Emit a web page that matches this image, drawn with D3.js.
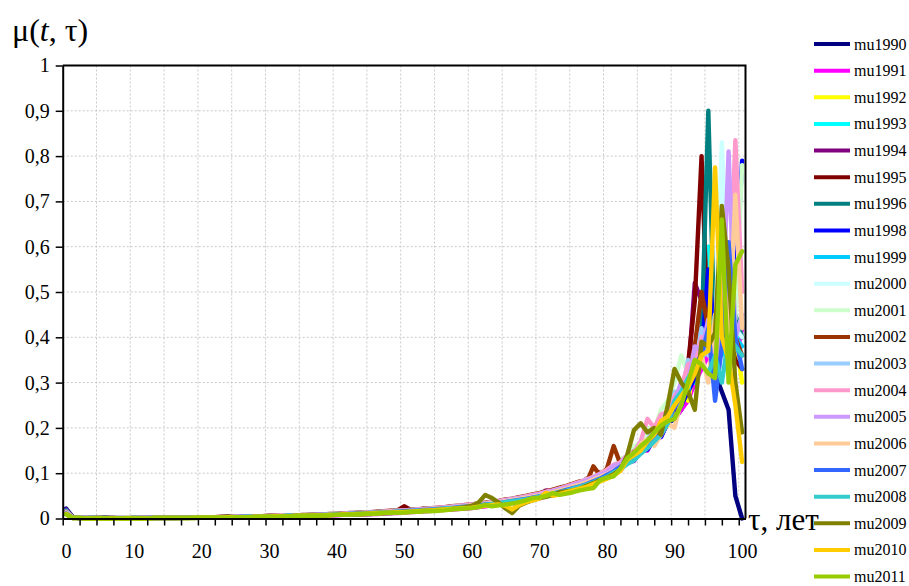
<!DOCTYPE html>
<html>
<head>
<meta charset="utf-8">
<script src="https://cdn.jsdelivr.net/npm/d3@7"></script>
<style>
  body { margin: 0; background: #fff; }
  svg { display: block; }
</style>
</head>
<body>
<svg id="chart" width="909" height="586"></svg>
<script>
// Mortality rate μ(t, τ) by age τ = 0..100, one series per calendar year t.
const seriesNames = ["mu1990","mu1991","mu1992","mu1993","mu1994","mu1995","mu1996","mu1998","mu1999","mu2000",
  "mu2001","mu2002","mu2003","mu2004","mu2005","mu2006","mu2007","mu2008","mu2009","mu2010","mu2011"];

const seriesColors = ["#000080","#ff00ff","#ffff00","#00ffff","#800080","#800000","#008080","#0000ff","#00ccff","#ccffff",
  "#ccffcc","#993300","#99ccff","#ff99cc","#cc99ff","#ffcc99","#3366ff","#33cccc","#808000","#ffcc00","#99cc00"];

const xTickLabels = [0, 10, 20, 30, 40, 50, 60, 70, 80, 90, 100];

const mu1990 = [
0.022,0.003,0.002,0.001,0.001,0.001,0.001,0.001,0.001,0.001,
0.001,0.001,0.001,0.001,0.001,0.001,0.001,0.002,0.002,0.002,
0.002,0.002,0.003,0.003,0.003,0.003,0.003,0.003,0.004,0.004,
0.004,0.004,0.005,0.005,0.005,0.006,0.006,0.006,0.007,0.007,
0.008,0.008,0.009,0.009,0.010,0.010,0.011,0.012,0.012,0.013,
0.014,0.015,0.016,0.017,0.018,0.019,0.020,0.021,0.022,0.023,
0.024,0.026,0.028,0.030,0.032,0.034,0.036,0.039,0.041,0.044,
0.046,0.052,0.051,0.059,0.058,0.066,0.068,0.077,0.078,0.090,
0.092,0.108,0.110,0.128,0.130,0.152,0.155,0.180,0.183,0.210,
0.220,0.240,0.270,0.310,0.420,0.500,0.320,0.280,0.240,0.050,0.000];

const mu1991 = [
0.019,0.002,0.001,0.001,0.001,0.000,0.000,0.000,0.000,0.000,
0.000,0.001,0.001,0.001,0.001,0.001,0.001,0.001,0.002,0.002,
0.002,0.002,0.002,0.002,0.002,0.003,0.003,0.003,0.003,0.003,
0.003,0.004,0.004,0.004,0.005,0.005,0.005,0.006,0.006,0.007,
0.007,0.008,0.008,0.009,0.009,0.010,0.010,0.011,0.012,0.012,
0.013,0.014,0.015,0.016,0.017,0.018,0.019,0.020,0.021,0.022,
0.023,0.025,0.027,0.029,0.031,0.033,0.035,0.030,0.040,0.043,
0.044,0.050,0.050,0.058,0.057,0.066,0.067,0.076,0.076,0.089,
0.090,0.106,0.106,0.125,0.127,0.149,0.150,0.178,0.180,0.214,
0.220,0.240,0.260,0.300,0.330,0.360,0.320,0.400,0.380,0.350,0.420];

const mu1992 = [
0.017,0.002,0.001,0.001,0.001,0.001,0.000,0.000,0.000,0.001,
0.001,0.001,0.001,0.001,0.001,0.001,0.001,0.002,0.002,0.002,
0.002,0.002,0.002,0.003,0.003,0.003,0.003,0.003,0.003,0.004,
0.004,0.004,0.004,0.005,0.005,0.005,0.006,0.006,0.006,0.007,
0.008,0.008,0.009,0.009,0.010,0.011,0.011,0.012,0.013,0.013,
0.014,0.015,0.016,0.017,0.018,0.020,0.021,0.022,0.023,0.025,
0.026,0.028,0.030,0.031,0.034,0.036,0.038,0.041,0.043,0.047,
0.049,0.053,0.056,0.060,0.064,0.068,0.073,0.078,0.084,0.090,
0.100,0.104,0.120,0.122,0.142,0.146,0.168,0.172,0.198,0.205,
0.230,0.280,0.260,0.340,0.360,0.420,0.380,0.450,0.350,0.400,0.300];

const mu1993 = [
0.016,0.002,0.001,0.001,0.001,0.001,0.001,0.000,0.000,0.000,
0.001,0.001,0.001,0.001,0.001,0.001,0.002,0.002,0.002,0.002,
0.002,0.002,0.003,0.003,0.003,0.003,0.003,0.004,0.004,0.004,
0.004,0.005,0.005,0.005,0.006,0.006,0.006,0.007,0.007,0.008,
0.008,0.009,0.009,0.010,0.011,0.011,0.012,0.013,0.014,0.014,
0.015,0.016,0.017,0.019,0.020,0.021,0.022,0.024,0.025,0.027,
0.028,0.030,0.032,0.034,0.036,0.038,0.041,0.043,0.046,0.049,
0.052,0.055,0.059,0.063,0.067,0.072,0.077,0.082,0.088,0.095,
0.105,0.108,0.125,0.126,0.146,0.150,0.175,0.176,0.205,0.208,
0.260,0.250,0.320,0.300,0.400,0.600,0.400,0.450,0.420,0.380,0.450];

const mu1994 = [
0.017,0.002,0.001,0.001,0.001,0.001,0.001,0.000,0.000,0.000,
0.001,0.001,0.001,0.001,0.001,0.001,0.002,0.002,0.002,0.002,
0.003,0.003,0.003,0.003,0.003,0.004,0.004,0.004,0.004,0.005,
0.005,0.005,0.006,0.006,0.006,0.007,0.007,0.008,0.008,0.009,
0.009,0.010,0.010,0.011,0.012,0.012,0.013,0.014,0.015,0.016,
0.017,0.018,0.019,0.020,0.021,0.022,0.023,0.025,0.026,0.027,
0.029,0.031,0.033,0.035,0.037,0.039,0.042,0.044,0.047,0.050,
0.054,0.062,0.060,0.066,0.066,0.076,0.077,0.088,0.088,0.102,
0.104,0.118,0.120,0.138,0.140,0.165,0.165,0.195,0.196,0.235,
0.240,0.300,0.310,0.520,0.480,0.450,0.380,0.500,0.440,0.420,0.400];

const mu1995 = [
0.018,0.002,0.001,0.001,0.001,0.001,0.001,0.001,0.000,0.000,
0.001,0.001,0.001,0.001,0.001,0.001,0.002,0.002,0.002,0.003,
0.003,0.003,0.003,0.004,0.004,0.004,0.004,0.005,0.005,0.005,
0.006,0.006,0.006,0.007,0.007,0.008,0.008,0.009,0.009,0.010,
0.010,0.011,0.012,0.012,0.013,0.014,0.015,0.016,0.017,0.018,
0.027,0.019,0.020,0.021,0.022,0.023,0.024,0.026,0.027,0.029,
0.030,0.032,0.034,0.036,0.038,0.040,0.043,0.045,0.048,0.051,
0.055,0.058,0.062,0.066,0.070,0.075,0.080,0.086,0.092,0.098,
0.108,0.112,0.130,0.132,0.155,0.156,0.185,0.186,0.220,0.222,
0.260,0.270,0.340,0.480,0.800,0.380,0.360,0.450,0.400,0.350,0.330];

const mu1996 = [
0.018,0.002,0.001,0.001,0.001,0.001,0.001,0.000,0.000,0.000,
0.001,0.001,0.001,0.001,0.001,0.001,0.002,0.002,0.002,0.002,
0.003,0.003,0.003,0.003,0.004,0.004,0.004,0.004,0.005,0.005,
0.005,0.006,0.006,0.006,0.007,0.007,0.008,0.008,0.009,0.009,
0.010,0.010,0.011,0.012,0.012,0.013,0.014,0.015,0.016,0.017,
0.018,0.019,0.020,0.021,0.022,0.023,0.024,0.025,0.027,0.028,
0.030,0.031,0.033,0.035,0.037,0.040,0.042,0.045,0.047,0.050,
0.053,0.057,0.061,0.065,0.069,0.074,0.079,0.084,0.090,0.097,
0.100,0.115,0.118,0.136,0.139,0.162,0.165,0.192,0.195,0.228,
0.250,0.250,0.330,0.320,0.400,0.900,0.350,0.420,0.380,0.450,0.400];

const mu1998 = [
0.017,0.002,0.001,0.001,0.001,0.000,0.000,0.000,0.000,0.000,
0.000,0.001,0.001,0.001,0.001,0.001,0.001,0.002,0.002,0.002,
0.002,0.002,0.003,0.003,0.003,0.003,0.003,0.003,0.004,0.004,
0.004,0.004,0.005,0.005,0.005,0.006,0.006,0.007,0.007,0.008,
0.008,0.009,0.009,0.010,0.010,0.011,0.012,0.012,0.013,0.014,
0.015,0.016,0.017,0.018,0.019,0.020,0.021,0.022,0.023,0.025,
0.026,0.028,0.029,0.031,0.033,0.035,0.038,0.040,0.043,0.045,
0.048,0.052,0.055,0.059,0.063,0.067,0.072,0.077,0.083,0.089,
0.094,0.106,0.110,0.125,0.128,0.150,0.152,0.178,0.180,0.212,
0.220,0.250,0.280,0.310,0.360,0.550,0.400,0.420,0.480,0.500,0.790];

const mu1999 = [
0.017,0.002,0.001,0.001,0.001,0.000,0.000,0.000,0.000,0.000,
0.001,0.001,0.001,0.001,0.001,0.001,0.001,0.002,0.002,0.002,
0.002,0.002,0.003,0.003,0.003,0.003,0.004,0.004,0.004,0.004,
0.005,0.005,0.005,0.006,0.006,0.006,0.007,0.007,0.008,0.008,
0.009,0.009,0.010,0.010,0.011,0.012,0.012,0.013,0.014,0.015,
0.016,0.017,0.018,0.019,0.020,0.021,0.022,0.024,0.025,0.026,
0.028,0.030,0.031,0.033,0.035,0.038,0.040,0.043,0.045,0.048,
0.051,0.055,0.058,0.062,0.066,0.071,0.076,0.081,0.087,0.094,
0.103,0.106,0.124,0.126,0.147,0.150,0.175,0.177,0.208,0.210,
0.250,0.300,0.280,0.360,0.350,0.400,0.450,0.360,0.520,0.400,0.380];

const mu2000 = [
0.016,0.002,0.001,0.001,0.001,0.001,0.000,0.000,0.000,0.000,
0.001,0.001,0.001,0.001,0.001,0.001,0.002,0.002,0.002,0.002,
0.002,0.003,0.003,0.003,0.003,0.004,0.004,0.004,0.004,0.005,
0.005,0.005,0.006,0.006,0.006,0.007,0.007,0.008,0.008,0.009,
0.009,0.010,0.010,0.011,0.012,0.012,0.013,0.014,0.015,0.016,
0.017,0.018,0.019,0.020,0.021,0.022,0.024,0.025,0.026,0.028,
0.029,0.031,0.033,0.035,0.037,0.040,0.042,0.045,0.047,0.050,
0.053,0.057,0.061,0.065,0.069,0.074,0.079,0.085,0.091,0.098,
0.108,0.112,0.130,0.133,0.155,0.158,0.185,0.190,0.220,0.228,
0.250,0.300,0.310,0.360,0.380,0.420,0.400,0.830,0.450,0.420,0.400];

const mu2001 = [
0.015,0.002,0.001,0.001,0.001,0.001,0.000,0.000,0.000,0.000,
0.001,0.001,0.001,0.001,0.001,0.001,0.002,0.002,0.002,0.002,
0.003,0.003,0.003,0.003,0.003,0.004,0.004,0.004,0.005,0.005,
0.005,0.006,0.006,0.006,0.007,0.007,0.008,0.008,0.009,0.009,
0.010,0.010,0.011,0.012,0.012,0.013,0.014,0.015,0.016,0.017,
0.018,0.019,0.020,0.021,0.022,0.023,0.025,0.026,0.027,0.029,
0.030,0.032,0.034,0.036,0.038,0.041,0.043,0.046,0.049,0.052,
0.055,0.059,0.063,0.067,0.071,0.076,0.081,0.087,0.093,0.100,
0.110,0.114,0.132,0.136,0.160,0.165,0.200,0.195,0.240,0.260,
0.300,0.360,0.320,0.370,0.400,0.420,0.380,0.460,0.500,0.440,0.780];

const mu2002 = [
0.015,0.002,0.001,0.001,0.001,0.001,0.000,0.000,0.000,0.000,
0.001,0.001,0.001,0.001,0.001,0.001,0.002,0.002,0.002,0.002,
0.003,0.003,0.003,0.003,0.004,0.004,0.004,0.004,0.005,0.005,
0.005,0.006,0.006,0.007,0.007,0.007,0.008,0.008,0.009,0.009,
0.010,0.011,0.011,0.012,0.013,0.013,0.014,0.015,0.016,0.017,
0.018,0.019,0.020,0.022,0.023,0.024,0.025,0.027,0.028,0.030,
0.031,0.033,0.035,0.037,0.039,0.042,0.044,0.047,0.050,0.053,
0.056,0.060,0.064,0.068,0.072,0.077,0.082,0.080,0.115,0.095,
0.110,0.160,0.120,0.135,0.148,0.160,0.174,0.190,0.207,0.225,
0.260,0.280,0.320,0.380,0.500,0.420,0.400,0.440,0.380,0.400,0.360];

const mu2003 = [
0.014,0.002,0.001,0.001,0.001,0.000,0.000,0.000,0.000,0.000,
0.001,0.001,0.001,0.001,0.001,0.001,0.001,0.002,0.002,0.002,
0.002,0.003,0.003,0.003,0.003,0.004,0.004,0.004,0.004,0.005,
0.005,0.005,0.006,0.006,0.007,0.007,0.007,0.008,0.008,0.009,
0.010,0.010,0.011,0.011,0.012,0.013,0.014,0.015,0.015,0.016,
0.017,0.018,0.020,0.021,0.022,0.023,0.024,0.026,0.027,0.029,
0.030,0.032,0.034,0.036,0.038,0.040,0.043,0.045,0.048,0.051,
0.054,0.058,0.061,0.066,0.070,0.075,0.080,0.085,0.091,0.098,
0.104,0.118,0.120,0.140,0.142,0.168,0.170,0.200,0.200,0.240,
0.280,0.270,0.350,0.330,0.420,0.360,0.400,0.520,0.460,0.400,0.440];

const mu2004 = [
0.013,0.002,0.001,0.001,0.000,0.000,0.000,0.000,0.000,0.000,
0.000,0.001,0.001,0.001,0.001,0.001,0.001,0.002,0.002,0.002,
0.002,0.003,0.003,0.003,0.003,0.004,0.004,0.004,0.005,0.005,
0.005,0.006,0.006,0.006,0.007,0.007,0.008,0.008,0.009,0.009,
0.010,0.010,0.011,0.012,0.012,0.013,0.014,0.015,0.016,0.017,
0.018,0.019,0.020,0.021,0.022,0.024,0.025,0.026,0.028,0.029,
0.031,0.033,0.034,0.036,0.039,0.041,0.043,0.046,0.049,0.052,
0.055,0.059,0.062,0.066,0.071,0.076,0.081,0.086,0.092,0.099,
0.108,0.118,0.124,0.140,0.146,0.170,0.220,0.200,0.230,0.235,
0.270,0.290,0.340,0.350,0.400,0.400,0.360,0.420,0.450,0.835,0.500];

const mu2005 = [
0.013,0.002,0.001,0.001,0.000,0.000,0.000,0.000,0.000,0.000,
0.000,0.000,0.001,0.001,0.001,0.001,0.001,0.001,0.002,0.002,
0.002,0.002,0.003,0.003,0.003,0.003,0.004,0.004,0.004,0.005,
0.005,0.005,0.006,0.006,0.007,0.007,0.007,0.008,0.008,0.009,
0.009,0.010,0.011,0.011,0.012,0.013,0.013,0.014,0.015,0.016,
0.017,0.018,0.019,0.020,0.021,0.023,0.024,0.025,0.027,0.028,
0.030,0.031,0.033,0.035,0.037,0.040,0.042,0.045,0.047,0.050,
0.053,0.057,0.061,0.065,0.069,0.074,0.079,0.084,0.090,0.097,
0.102,0.116,0.120,0.138,0.142,0.166,0.168,0.198,0.200,0.238,
0.260,0.300,0.300,0.380,0.370,0.440,0.340,0.420,0.810,0.400,0.450];

const mu2006 = [
0.012,0.002,0.001,0.000,0.000,0.000,0.000,0.000,0.000,0.000,
0.000,0.000,0.001,0.001,0.001,0.001,0.001,0.001,0.002,0.002,
0.002,0.002,0.003,0.003,0.003,0.003,0.004,0.004,0.004,0.005,
0.005,0.005,0.006,0.006,0.006,0.007,0.007,0.008,0.008,0.009,
0.009,0.010,0.010,0.011,0.012,0.012,0.013,0.014,0.015,0.015,
0.016,0.017,0.018,0.019,0.021,0.022,0.023,0.024,0.026,0.027,
0.029,0.030,0.032,0.034,0.036,0.038,0.041,0.043,0.046,0.048,
0.051,0.055,0.058,0.062,0.066,0.071,0.075,0.080,0.086,0.092,
0.098,0.105,0.115,0.125,0.140,0.165,0.175,0.160,0.185,0.210,
0.200,0.260,0.300,0.330,0.360,0.300,0.450,0.400,0.380,0.715,0.420];

const mu2007 = [
0.011,0.002,0.001,0.000,0.000,0.000,0.000,0.000,0.000,0.000,
0.000,0.000,0.001,0.001,0.001,0.001,0.001,0.001,0.002,0.002,
0.002,0.002,0.002,0.003,0.003,0.003,0.004,0.004,0.004,0.004,
0.005,0.005,0.005,0.006,0.006,0.007,0.007,0.008,0.008,0.008,
0.009,0.009,0.010,0.011,0.011,0.012,0.013,0.013,0.014,0.015,
0.016,0.017,0.018,0.019,0.020,0.021,0.022,0.023,0.025,0.026,
0.027,0.029,0.031,0.032,0.034,0.036,0.039,0.041,0.043,0.046,
0.049,0.052,0.055,0.059,0.063,0.067,0.071,0.076,0.082,0.088,
0.096,0.104,0.115,0.122,0.140,0.145,0.170,0.172,0.205,0.215,
0.245,0.270,0.300,0.340,0.360,0.420,0.260,0.380,0.610,0.400,0.330];

const mu2008 = [
0.010,0.001,0.001,0.000,0.000,0.000,0.000,0.000,0.000,0.000,
0.000,0.000,0.000,0.001,0.001,0.001,0.001,0.001,0.001,0.002,
0.002,0.002,0.002,0.003,0.003,0.003,0.003,0.004,0.004,0.004,
0.005,0.005,0.005,0.006,0.006,0.006,0.007,0.007,0.008,0.008,
0.009,0.009,0.010,0.010,0.011,0.012,0.012,0.013,0.014,0.015,
0.015,0.016,0.017,0.018,0.019,0.020,0.022,0.023,0.024,0.025,
0.027,0.028,0.030,0.032,0.034,0.036,0.038,0.040,0.042,0.045,
0.048,0.051,0.054,0.058,0.061,0.066,0.070,0.075,0.080,0.086,
0.092,0.102,0.108,0.120,0.128,0.143,0.155,0.170,0.185,0.210,
0.260,0.280,0.310,0.330,0.340,0.320,0.360,0.300,0.400,0.380,0.360];

const mu2009 = [
0.010,0.001,0.001,0.000,0.000,0.000,0.000,0.000,0.000,0.000,
0.000,0.000,0.000,0.001,0.001,0.001,0.001,0.001,0.001,0.001,
0.002,0.002,0.002,0.002,0.003,0.003,0.003,0.003,0.004,0.004,
0.004,0.005,0.005,0.005,0.006,0.006,0.006,0.007,0.007,0.008,
0.008,0.009,0.009,0.010,0.010,0.011,0.012,0.012,0.013,0.014,
0.015,0.015,0.016,0.017,0.018,0.019,0.020,0.021,0.023,0.025,
0.028,0.035,0.052,0.045,0.035,0.022,0.012,0.028,0.035,0.040,
0.045,0.048,0.052,0.058,0.060,0.062,0.066,0.072,0.078,0.085,
0.090,0.098,0.108,0.140,0.195,0.210,0.190,0.200,0.185,0.250,
0.330,0.300,0.280,0.240,0.390,0.380,0.410,0.690,0.550,0.300,0.190];

const mu2010 = [
0.010,0.001,0.001,0.000,0.000,0.000,0.000,0.000,0.000,0.000,
0.000,0.000,0.000,0.001,0.001,0.001,0.001,0.001,0.001,0.002,
0.002,0.002,0.002,0.002,0.003,0.003,0.003,0.003,0.004,0.004,
0.004,0.005,0.005,0.005,0.006,0.006,0.006,0.007,0.007,0.008,
0.008,0.009,0.009,0.010,0.010,0.011,0.012,0.012,0.013,0.014,
0.014,0.015,0.016,0.017,0.018,0.019,0.020,0.021,0.022,0.023,
0.024,0.026,0.028,0.030,0.031,0.028,0.020,0.030,0.036,0.040,
0.044,0.057,0.050,0.054,0.058,0.062,0.066,0.070,0.076,0.082,
0.088,0.095,0.105,0.130,0.140,0.150,0.170,0.185,0.215,0.225,
0.250,0.270,0.290,0.320,0.360,0.370,0.775,0.400,0.350,0.250,0.125];

const mu2011 = [
0.009,0.001,0.001,0.000,0.000,0.000,0.000,0.000,0.000,0.000,
0.000,0.000,0.000,0.001,0.001,0.001,0.001,0.001,0.001,0.001,
0.002,0.002,0.002,0.002,0.002,0.003,0.003,0.003,0.003,0.004,
0.004,0.004,0.005,0.005,0.005,0.006,0.006,0.006,0.007,0.007,
0.008,0.008,0.009,0.009,0.010,0.010,0.011,0.012,0.012,0.013,
0.013,0.014,0.015,0.016,0.016,0.017,0.018,0.020,0.021,0.022,
0.023,0.025,0.030,0.027,0.029,0.031,0.033,0.036,0.040,0.045,
0.046,0.050,0.056,0.052,0.055,0.058,0.062,0.065,0.067,0.085,
0.090,0.093,0.110,0.133,0.145,0.160,0.172,0.190,0.205,0.215,
0.220,0.250,0.300,0.350,0.340,0.320,0.310,0.660,0.300,0.560,0.590];

const seriesValues = [mu1990, mu1991, mu1992, mu1993, mu1994, mu1995, mu1996, mu1998, mu1999, mu2000,
  mu2001, mu2002, mu2003, mu2004, mu2005, mu2006, mu2007, mu2008, mu2009, mu2010, mu2011];

const series = seriesNames.map((name, i) => ({ name, color: seriesColors[i], values: seriesValues[i] }));

// ---------- layout ----------
const FONT = "'Liberation Serif', 'Times New Roman', serif";
const plot = { left: 62.7, right: 745.5, top: 65.5, bottom: 518.5 };

const svg = d3.select("#chart");

// Categories 0..100 sit in the middle of equal slots along the axis.
const x = d3.scaleLinear().domain([-0.5, 100.5]).range([plot.left, plot.right]);
const y = d3.scaleLinear().domain([0, 1]).range([plot.bottom, plot.top]);

const fmt = d3.formatLocale({ decimal: ",", thousands: " ", grouping: [3], currency: ["", ""] }).format(".1~f");

// ---------- grid ----------
const slotEdges = d3.range(0, 41).map(k => -0.5 + 2.5 * k);   // tick marks every 2.5 slots
const gridX = slotEdges.filter((d, k) => k > 0 && k % 2 === 0);
const grid = svg.append("g").attr("stroke", "#c8c8c8").attr("stroke-width", 1).attr("stroke-dasharray", "2,2");
grid.selectAll("line.vx").data(gridX).join("line")
  .attr("x1", d => x(d)).attr("x2", d => x(d))
  .attr("y1", plot.top).attr("y2", plot.bottom);
grid.selectAll("line.hy").data(y.ticks(10).filter(d => d > 0 && d < 1)).join("line")
  .attr("x1", plot.left).attr("x2", plot.right)
  .attr("y1", d => y(d)).attr("y2", d => y(d));

// ---------- series ----------
const line = d3.line().x((d, i) => x(i)).y(d => y(d));
svg.append("g")
  .selectAll("path").data(series).join("path")
  .attr("d", d => line(d.values))
  .attr("fill", "none")
  .attr("stroke", d => d.color)
  .attr("stroke-width", 4.4)
  .attr("stroke-linejoin", "round")
  .attr("stroke-linecap", "round");

// ---------- frame ----------
svg.append("path")
  .attr("d", `M${plot.left},${plot.top}H${plot.right}V${plot.bottom}`)
  .attr("fill", "none").attr("stroke", "#000").attr("stroke-width", 2);

// ---------- axes ----------
const yAxis = svg.append("g")
  .attr("transform", `translate(${plot.left},0)`)
  .call(d3.axisLeft(y).ticks(10).tickFormat(fmt).tickSize(7).tickSizeOuter(0).tickPadding(6));
const xMarks = svg.append("g")
  .attr("transform", `translate(0,${plot.bottom})`)
  .call(d3.axisBottom(x).tickValues(slotEdges).tickFormat("").tickSize(7).tickSizeOuter(0));
const xLabels = svg.append("g")
  .attr("transform", `translate(0,${plot.bottom})`)
  .call(d3.axisBottom(x).tickValues(xTickLabels).tickSize(0).tickPadding(25));
xLabels.select(".domain").remove();

[yAxis, xMarks].forEach(g => {
  g.select(".domain").attr("stroke", "#000").attr("stroke-width", 2);
  g.selectAll(".tick line").attr("stroke", "#000").attr("stroke-width", 1.5);
});
[yAxis, xLabels].forEach(g => {
  g.attr("font-family", FONT);
  g.selectAll("text").style("font-family", FONT).attr("font-size", 20).attr("fill", "#000");
});

// ---------- axis titles ----------
const yTitle = svg.append("text")
  .attr("x", 12).attr("y", 41)
  .style("font-family", FONT).attr("font-size", 32).attr("fill", "#000");
yTitle.append("tspan").text("μ(");
yTitle.append("tspan").attr("font-style", "italic").text("t");
yTitle.append("tspan").text(", τ)");

svg.append("text")
  .attr("x", 748).attr("y", 530)
  .style("font-family", FONT).attr("font-size", 31).attr("fill", "#000")
  .text("τ, лет");

// ---------- legend ----------
const legendY = d3.scaleLinear().domain([0, series.length - 1]).range([44, 576.6]);
const legend = svg.append("g")
  .selectAll("g").data(series).join("g")
  .attr("transform", (d, i) => `translate(0,${legendY(i)})`);
legend.append("line")
  .attr("x1", 814).attr("x2", 850).attr("y1", 0).attr("y2", 0)
  .attr("stroke", d => d.color).attr("stroke-width", 4);
legend.append("text")
  .attr("x", 854).attr("y", 5.5)
  .style("font-family", FONT).attr("font-size", 16).attr("fill", "#000")
  .text(d => d.name);
</script>
</body>
</html>
